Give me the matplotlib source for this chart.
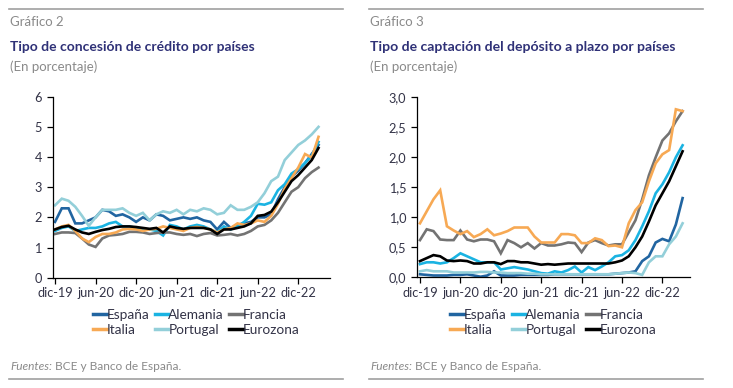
import matplotlib
matplotlib.use("Agg")
import matplotlib.pyplot as plt
from matplotlib import font_manager
from matplotlib.lines import Line2D
from matplotlib.ticker import FuncFormatter, MultipleLocator

# datos mensuales, dic-19 a mar-23
meses = list(range(40))
etiquetas_x = ["dic-19", "jun-20", "dic-20", "jun-21", "dic-21", "jun-22", "dic-22"]
series = ["España", "Alemania", "Francia", "Italia", "Portugal", "Eurozona"]
colores = ["#2165a1", "#1ab3e2", "#737373", "#f7a954", "#93cfd9", "#000000"]

# Gráfico 2: tipo de concesión de crédito
cred_espana = [1.85, 2.3, 2.3, 1.8, 1.8, 1.9, 2.0, 2.25, 2.2, 2.05,
               2.1, 2.0, 1.85, 2.0, 1.9, 2.1, 2.05, 1.9, 1.95, 2.0,
               1.95, 2.0, 1.9, 1.85, 1.6, 1.85, 1.65, 1.75, 1.8, 1.85,
               2.0, 2.0, 2.1, 2.6, 3.0, 3.35, 3.55, 3.8, 4.1, 4.4]
cred_alemania = [1.55, 1.65, 1.7, 1.55, 1.6, 1.65, 1.65, 1.7, 1.8, 1.85,
                 1.7, 1.7, 1.65, 1.6, 1.6, 1.55, 1.4, 1.75, 1.7, 1.6,
                 1.7, 1.75, 1.7, 1.6, 1.5, 1.7, 1.6, 1.7, 1.85, 2.05,
                 2.45, 2.42, 2.5, 2.9, 3.1, 3.45, 3.6, 3.8, 4.05, 4.5]
cred_francia = [1.45, 1.5, 1.5, 1.48, 1.3, 1.1, 1.02, 1.3, 1.4, 1.42,
                1.45, 1.52, 1.52, 1.5, 1.45, 1.48, 1.5, 1.5, 1.45, 1.42,
                1.45, 1.38, 1.45, 1.48, 1.4, 1.42, 1.45, 1.4, 1.45, 1.55,
                1.7, 1.75, 1.9, 2.15, 2.5, 2.85, 3.0, 3.3, 3.5, 3.65]
cred_italia = [1.6, 1.7, 1.75, 1.55, 1.3, 1.18, 1.35, 1.45, 1.45, 1.5,
               1.6, 1.62, 1.6, 1.55, 1.6, 1.62, 1.7, 1.65, 1.6, 1.55,
               1.65, 1.68, 1.65, 1.6, 1.5, 1.6, 1.65, 1.8, 1.75, 1.8,
               1.9, 1.85, 2.05, 2.45, 2.95, 3.3, 3.65, 4.1, 3.98, 4.67]
cred_portugal = [2.4, 2.62, 2.55, 2.35, 2.05, 1.72, 2.0, 2.25, 2.25, 2.25,
                 2.3, 2.15, 2.05, 2.15, 1.9, 2.1, 2.2, 2.15, 2.25, 2.1,
                 2.25, 2.2, 2.3, 2.25, 2.1, 2.15, 2.4, 2.25, 2.25, 2.35,
                 2.5, 2.8, 3.2, 3.35, 3.9, 4.15, 4.4, 4.55, 4.75, 5.0]
cred_eurozona = [1.6, 1.68, 1.72, 1.6, 1.5, 1.45, 1.52, 1.58, 1.62, 1.68,
                 1.7, 1.7, 1.68, 1.65, 1.62, 1.65, 1.5, 1.7, 1.65, 1.62,
                 1.65, 1.65, 1.65, 1.6, 1.45, 1.6, 1.6, 1.65, 1.7, 1.8,
                 2.05, 2.08, 2.19, 2.5, 2.85, 3.2, 3.4, 3.65, 3.9, 4.3]

# Gráfico 3: tipo de captación del depósito a plazo
dep_espana = [0.05, 0.04, 0.03, 0.03, 0.03, 0.04, 0.04, 0.05, 0.03, 0.01,
              0.03, 0.1, 0.03, 0.03, 0.03, 0.04, 0.04, 0.04, 0.04, 0.04,
              0.05, 0.05, 0.05, 0.05, 0.05, 0.05, 0.05, 0.05, 0.05, 0.06,
              0.07, 0.08, 0.1, 0.27, 0.35, 0.58, 0.64, 0.6, 0.88, 1.32]
dep_alemania = [0.22, 0.25, 0.25, 0.23, 0.25, 0.32, 0.4, 0.35, 0.3, 0.25,
                0.25, 0.25, 0.13, 0.15, 0.17, 0.15, 0.13, 0.1, 0.07, 0.06,
                0.1, 0.08, 0.12, 0.18, 0.08, 0.17, 0.12, 0.18, 0.25, 0.35,
                0.37, 0.45, 0.62, 0.85, 1.1, 1.4, 1.55, 1.75, 2.0, 2.2]
dep_francia = [0.62, 0.8, 0.77, 0.63, 0.62, 0.62, 0.78, 0.63, 0.6, 0.63,
               0.63, 0.6, 0.4, 0.62, 0.57, 0.5, 0.57, 0.48, 0.57, 0.53,
               0.53, 0.55, 0.58, 0.57, 0.42, 0.58, 0.62, 0.57, 0.53, 0.55,
               0.55, 0.75, 0.95, 1.3, 1.7, 2.0, 2.28, 2.4, 2.6, 2.77]
dep_italia = [0.9, 1.1, 1.3, 1.45, 0.85, 0.78, 0.72, 0.77, 0.67, 0.72,
              0.8, 0.7, 0.73, 0.77, 0.83, 0.83, 0.83, 0.68, 0.58, 0.58,
              0.58, 0.72, 0.72, 0.7, 0.57, 0.57, 0.65, 0.62, 0.52, 0.53,
              0.5, 0.9, 1.12, 1.25, 1.6, 1.9, 2.05, 2.12, 2.8, 2.77]
dep_portugal = [0.1, 0.12, 0.1, 0.1, 0.1, 0.08, 0.08, 0.08, 0.08, 0.09,
                0.09, 0.08, 0.08, 0.07, 0.07, 0.07, 0.06, 0.06, 0.05, 0.05,
                0.05, 0.05, 0.05, 0.05, 0.05, 0.05, 0.05, 0.05, 0.05, 0.06,
                0.07, 0.08, 0.07, 0.04, 0.25, 0.35, 0.35, 0.55, 0.68, 0.9]
dep_eurozona = [0.27, 0.32, 0.37, 0.35, 0.28, 0.27, 0.28, 0.27, 0.23, 0.23,
                0.25, 0.25, 0.22, 0.27, 0.27, 0.25, 0.25, 0.23, 0.21, 0.22,
                0.21, 0.22, 0.23, 0.23, 0.23, 0.23, 0.23, 0.23, 0.23, 0.25,
                0.28, 0.35, 0.5, 0.68, 0.93, 1.2, 1.4, 1.6, 1.85, 2.1]


def pick_font(names):
    for n in names:
        try:
            font_manager.findfont(n, fallback_to_default=False)
            return n
        except Exception:
            pass
    return "DejaVu Sans"


base_font = pick_font(["Lato", "Open Sans", "DejaVu Sans"])
narrow_font = pick_font(["Liberation Sans Narrow", "Lato"])
plt.rcParams["font.family"] = base_font

W, H = 733, 388
fig = plt.figure(figsize=(W / 100, H / 100), dpi=100)
fig.patch.set_facecolor("white")
renderer = fig.canvas.get_renderer()

gris = "#8a8a8a"
navy = "#2f3177"
txt = "#333347"


def fx(x):
    return x / W


def fy(y):
    return 1 - y / H


def fit_text(x, y, s, width, **kw):
    # ajusta el tamaño de letra para que el texto ocupe el ancho del original
    t = fig.text(fx(x), fy(y), s, va="center", ha="left", **kw)
    size = t.get_fontsize()
    w = t.get_window_extent(renderer).width
    t.set_fontsize(size * width / w)
    return t


def footer(x0):
    t1 = fit_text(x0 + 1, 367, "Fuentes:", 42, color=gris, fontsize=9, style="italic")
    bb = t1.get_window_extent(renderer)
    fig.text(bb.x1 / W, fy(367), " BCE y Banco de España.", color=gris,
             fontsize=t1.get_fontsize(), va="center", ha="left")


def header(x0, x1, num, titulo, ancho_titulo):
    fig.add_artist(Line2D([fx(x0), fx(x1)], [fy(9), fy(9)], color="#a0a0a0", lw=1.2))
    fig.add_artist(Line2D([fx(x0), fx(x1)], [fy(379), fy(379)], color="#a0a0a0", lw=1.2))
    fit_text(x0 + 1, 22, num, 54, color=gris, fontsize=10)
    fit_text(x0 + 1, 47, titulo, ancho_titulo, color=navy, fontsize=10,
             fontweight="bold", family=narrow_font)
    fit_text(x0 + 1, 67, "(En porcentaje)", 88, color=gris, fontsize=10)
    footer(x0)


def panel(left, right, top, bottom, datos, ymax, ystep, fmt, xmin, xmax, leg_x):
    ax = fig.add_axes([fx(left), fy(bottom), fx(right - left), (bottom - top) / H])
    for vals, nombre, c in zip(datos, series, colores):
        ax.plot(meses, vals, color=c, lw=1.9, label=nombre, solid_joinstyle="miter")
    ax.set_xlim(xmin, xmax)
    ax.set_ylim(0, ymax)
    ax.yaxis.set_major_locator(MultipleLocator(ystep))
    ax.yaxis.set_major_formatter(FuncFormatter(fmt))
    ax.set_xticks(range(0, 37, 6))
    ax.set_xticklabels(etiquetas_x)
    for s in ["top", "right"]:
        ax.spines[s].set_visible(False)
    for s in ["left", "bottom"]:
        ax.spines[s].set_linewidth(0.9)
        ax.spines[s].set_color("black")
    ax.tick_params(axis="both", direction="out", length=4, width=0.9,
                   labelsize=9.2, labelcolor=txt, pad=3)
    ax.tick_params(axis="y", pad=4)
    h, l = ax.get_legend_handles_labels()
    orden = [0, 3, 1, 4, 2, 5]
    ax.legend([h[i] for i in orden], [l[i] for i in orden], ncol=3,
              loc="upper left", bbox_to_anchor=(fx(leg_x), fy(309)),
              bbox_transform=fig.transFigure, frameon=False, fontsize=9.8,
              handlelength=1.0, handletextpad=0.0, columnspacing=0.4,
              labelspacing=0.2, borderpad=0, borderaxespad=0,
              labelcolor=txt)
    for ln in ax.get_legend().get_lines():
        ln.set_linewidth(2.5)
    return ax


header(9, 343, "Gráfico 2", "Tipo de concesión de crédito por países", 244)
header(369, 703, "Gráfico 3", "Tipo de captación del depósito a plazo por países", 305)

panel(53, 330, 96.7, 277.7,
      [cred_espana, cred_alemania, cred_francia, cred_italia, cred_portugal, cred_eurozona],
      6, 1, lambda v, p: f"{v:.0f}", -0.3, 40.7, 93)
panel(417.3, 690, 97.3, 277.3,
      [dep_espana, dep_alemania, dep_francia, dep_italia, dep_portugal, dep_eurozona],
      3, 0.5, lambda v, p: f"{v:.1f}".replace(".", ","), -0.4, 40.1, 450)

fig.savefig("out.png", dpi=100)
